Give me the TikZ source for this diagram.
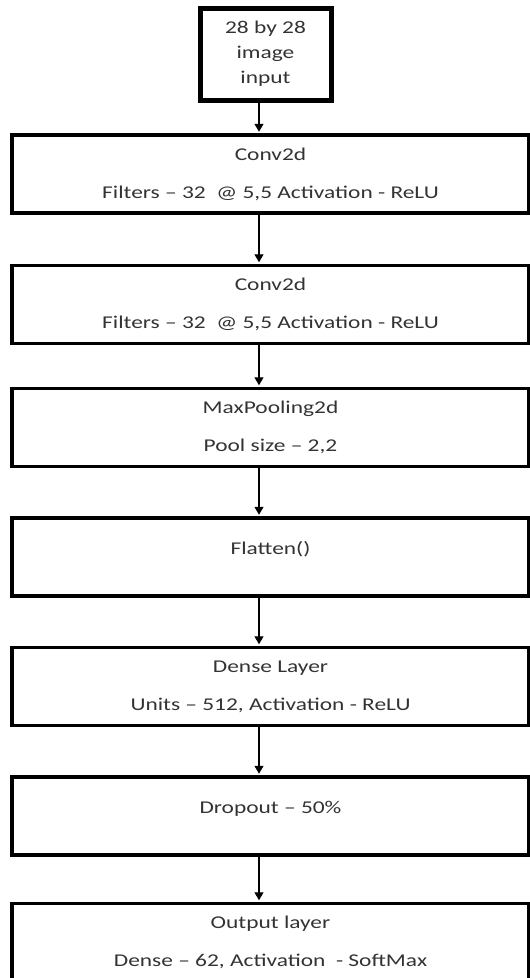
\documentclass[tikz,border=0pt]{standalone}
\usepackage{fontspec}
\setmainfont{Carlito}[FakeStretch=1.3]
\usetikzlibrary{arrows.meta}
\tikzstyle{arrow} = [-{Triangle[length=8pt,width=9pt]}, line width=1.3pt, shorten >=1.5pt]
\tikzstyle{layerbox} = [draw, line width=3.5pt, minimum width=517pt, minimum height=78pt, align=center, text=black!80, font=\fontsize{18}{21}\selectfont]
\tikzstyle{oneline} = [text depth=18pt]
\tikzstyle{inbox} = [draw, line width=5pt, minimum width=131pt, minimum height=92pt, align=center, text=black!80, font=\fontsize{18}{25}\selectfont]

\begin{document}
\begin{tikzpicture}[x=1pt, y=-1pt]
        \useasboundingbox (0,0) rectangle (530,978);
        \clip (0,0) rectangle (530,978);
        \node[inbox] at (265.5,54) (in) {28 by 28\\image\\input};
        \node[layerbox] at (270.5,174) (c1) {Conv2d\\[17pt]Filters -- 32 \ @ 5,5 Activation - ReLU};
        \node[layerbox] at (270.5,304.5) (c2) {Conv2d\\[17pt]Filters -- 32 \ @ 5,5 Activation - ReLU};
        \node[layerbox] at (270.5,427.5) (mp) {MaxPooling2d\\[17pt]Pool size -- 2,2};
        \node[layerbox, oneline] at (270.5,557) (fl) {Flatten()};
        \node[layerbox] at (270.5,686.5) (dl) {Dense Layer\\[17pt]Units -- 512, Activation - ReLU};
        \node[layerbox, oneline] at (270.5,816) (dr) {Dropout -- 50\%};
        \node[layerbox] at (270.5,942.5) (out) {Output layer\\[17pt]Dense -- 62, Activation \ - SoftMax};

        \coordinate (ax) at (259,0);
        \draw[arrow] (in.south -| ax) -- (c1.north -| ax);
        \draw[arrow] (c1.south -| ax) -- (c2.north -| ax);
        \draw[arrow] (c2.south -| ax) -- (mp.north -| ax);
        \draw[arrow] (mp.south -| ax) -- (fl.north -| ax);
        \draw[arrow] (fl.south -| ax) -- (dl.north -| ax);
        \draw[arrow] (dl.south -| ax) -- (dr.north -| ax);
        \draw[arrow] (dr.south -| ax) -- (out.north -| ax);
\end{tikzpicture}
\end{document}
